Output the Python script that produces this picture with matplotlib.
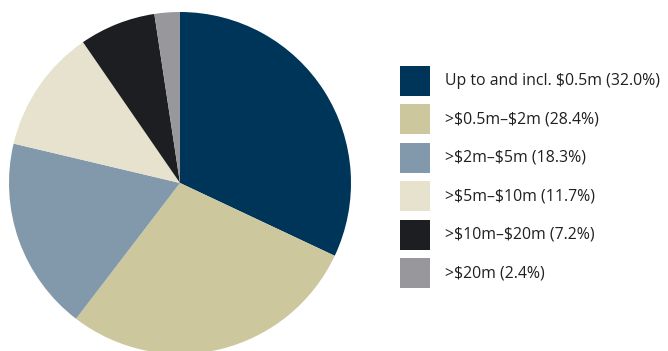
import matplotlib.pyplot as plt
from matplotlib.patches import Rectangle

# deal size bands and their share of the total
bands = ["Up to and incl. $0.5m", ">$0.5m\u2013$2m", ">$2m\u2013$5m",
         ">$5m\u2013$10m", ">$10m\u2013$20m", ">$20m"]
shares = [32.0, 28.4, 18.3, 11.7, 7.2, 2.4]
colors = ["#00355A", "#CDC79D", "#8299AC", "#E6E2CE", "#1D1E22", "#98979C"]

W, H = 668, 351
fig = plt.figure(figsize=(W / 100, H / 100), dpi=100)

# pie: centre (180, 183) px from top-left, radius 171 px
cx, cy, r = 180, 183, 171
ax = fig.add_axes([(cx - r) / W, (H - cy - r) / H, 2 * r / W, 2 * r / H])
ax.pie(shares, colors=colors, startangle=90, counterclock=False, radius=1,
       wedgeprops=dict(linewidth=0))
ax.set_xlim(-1, 1)
ax.set_ylim(-1, 1)
ax.axis("off")

# legend drawn by hand: colour squares and labels
for i, (b, s, c) in enumerate(zip(bands, shares, colors)):
    y_top = 66 + i * 38.4
    fig.patches.append(Rectangle((400 / W, 1 - (y_top + 30) / H), 30 / W, 30 / H,
                                 transform=fig.transFigure, facecolor=c,
                                 edgecolor="none"))
    fig.text(445 / W, 1 - (y_top + 15) / H, f"{b} ({s:.1f}%)",
             fontsize=11.4, family="Open Sans", color="#231F20",
             va="center", ha="left", parse_math=False)

fig.savefig("out.png", dpi=100)
